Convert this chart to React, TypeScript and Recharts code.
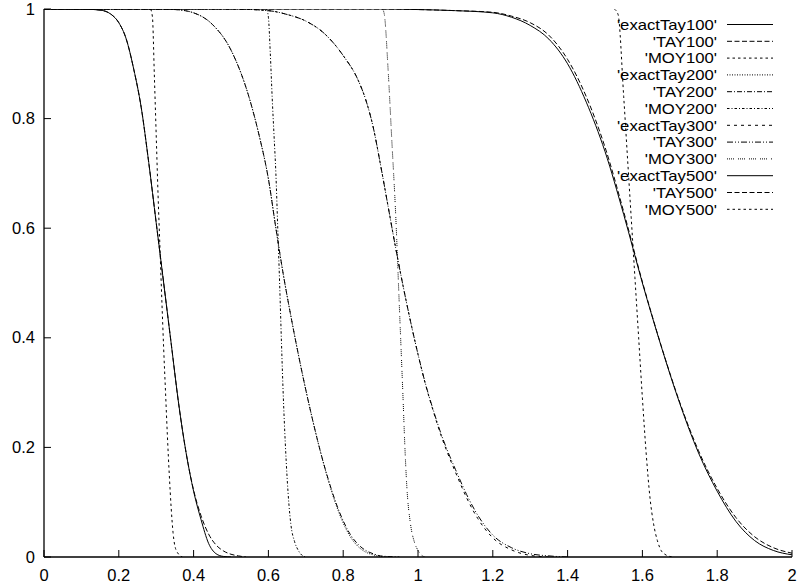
import React from 'react'
import { LineChart, Line, XAxis, YAxis, Legend } from 'recharts'

// x ticks and y ticks
const X_TICKS = [0, 0.2, 0.4, 0.6, 0.8, 1, 1.2, 1.4, 1.6, 1.8, 2]
const Y_TICKS = [0, 0.2, 0.4, 0.6, 0.8, 1]

// group 100
const exactTay100X = [0, 0.1, 0.15, 0.18, 0.2, 0.22, 0.24, 0.26, 0.28, 0.3, 0.32, 0.34, 0.36, 0.38, 0.4, 0.42, 0.44, 0.46, 0.48, 0.5]
const exactTay100Y = [1, 1, 0.998, 0.99, 0.975, 0.945, 0.89, 0.82, 0.72, 0.61, 0.5, 0.39, 0.28, 0.19, 0.12, 0.068, 0.025, 0.006, 0.001, 0]
const tay100X = [0, 0.1, 0.15, 0.18, 0.2, 0.22, 0.24, 0.26, 0.28, 0.3, 0.32, 0.34, 0.36, 0.38, 0.4, 0.42, 0.44, 0.46, 0.48, 0.5, 0.52, 0.54]
const tay100Y = [1, 1, 0.998, 0.99, 0.975, 0.945, 0.89, 0.82, 0.72, 0.61, 0.5, 0.39, 0.28, 0.19, 0.122, 0.075, 0.042, 0.022, 0.011, 0.005, 0.002, 0]
const moy100X = [0.285, 0.29, 0.295, 0.3, 0.305, 0.31, 0.315, 0.32, 0.325, 0.33, 0.335, 0.34, 0.345, 0.35, 0.36, 0.37]
const moy100Y = [1, 0.985, 0.88, 0.77, 0.66, 0.565, 0.47, 0.38, 0.3, 0.22, 0.15, 0.09, 0.045, 0.02, 0.005, 0]

// group 200
const exactTay200X = [0, 0.3, 0.35, 0.4, 0.45, 0.5, 0.55, 0.575, 0.6, 0.62, 0.64, 0.66, 0.68, 0.7, 0.72, 0.74, 0.76, 0.78, 0.8, 0.82, 0.84, 0.86, 0.88, 0.9, 0.93]
const exactTay200Y = [1, 1, 0.999, 0.993, 0.972, 0.925, 0.835, 0.77, 0.69, 0.6, 0.515, 0.44, 0.37, 0.305, 0.245, 0.19, 0.14, 0.097, 0.062, 0.036, 0.019, 0.009, 0.004, 0.001, 0]
const tay200X = [0, 0.3, 0.35, 0.4, 0.45, 0.5, 0.55, 0.575, 0.6, 0.62, 0.64, 0.66, 0.68, 0.7, 0.72, 0.74, 0.76, 0.78, 0.8, 0.82, 0.84, 0.86, 0.88, 0.9, 0.95]
const tay200Y = [1, 1, 0.999, 0.993, 0.972, 0.925, 0.835, 0.77, 0.69, 0.6, 0.515, 0.44, 0.37, 0.305, 0.245, 0.19, 0.142, 0.1, 0.066, 0.04, 0.023, 0.012, 0.006, 0.002, 0]
const moy200X = [0.595, 0.6, 0.605, 0.61, 0.615, 0.62, 0.625, 0.63, 0.635, 0.64, 0.645, 0.65, 0.655, 0.66, 0.67, 0.68, 0.69, 0.7]
const moy200Y = [1, 0.985, 0.92, 0.84, 0.77, 0.7, 0.6, 0.5, 0.39, 0.29, 0.21, 0.145, 0.095, 0.06, 0.028, 0.012, 0.003, 0]

// group 300
const exactTay300X = [0, 0.5, 0.6, 0.65, 0.7, 0.75, 0.8, 0.84, 0.86, 0.88, 0.9, 0.92, 0.94, 0.96, 0.98, 1.0, 1.02, 1.04, 1.06, 1.08, 1.1, 1.13, 1.16, 1.2, 1.25, 1.3, 1.35]
const exactTay300Y = [1, 1, 0.997, 0.99, 0.978, 0.955, 0.915, 0.87, 0.835, 0.785, 0.715, 0.64, 0.565, 0.495, 0.43, 0.37, 0.315, 0.268, 0.225, 0.188, 0.155, 0.108, 0.07, 0.035, 0.013, 0.003, 0]
const tay300X = [0, 0.5, 0.6, 0.65, 0.7, 0.75, 0.8, 0.84, 0.86, 0.88, 0.9, 0.92, 0.94, 0.96, 0.98, 1.0, 1.02, 1.04, 1.06, 1.08, 1.1, 1.13, 1.16, 1.2, 1.25, 1.3, 1.35, 1.4]
const tay300Y = [1, 1, 0.997, 0.99, 0.978, 0.955, 0.915, 0.87, 0.835, 0.785, 0.715, 0.64, 0.565, 0.495, 0.43, 0.37, 0.316, 0.27, 0.228, 0.192, 0.16, 0.114, 0.076, 0.04, 0.017, 0.006, 0.002, 0]
const moy300X = [0.905, 0.91, 0.92, 0.93, 0.94, 0.95, 0.96, 0.965, 0.97, 0.98, 0.99, 1.0, 1.01, 1.02]
const moy300Y = [1, 0.99, 0.89, 0.76, 0.63, 0.46, 0.29, 0.2, 0.13, 0.06, 0.028, 0.012, 0.003, 0]

// group 500
const exactTay500X = [0, 0.9, 1.0, 1.1, 1.2, 1.25, 1.3, 1.35, 1.4, 1.45, 1.5, 1.55, 1.6, 1.65, 1.7, 1.75, 1.8, 1.85, 1.9, 1.95, 2.0]
const exactTay500Y = [1, 1, 0.999, 0.997, 0.993, 0.985, 0.97, 0.945, 0.9, 0.83, 0.74, 0.625, 0.5, 0.385, 0.28, 0.19, 0.12, 0.065, 0.03, 0.012, 0.004]
const tay500Y = [1, 1, 0.999, 0.997, 0.994, 0.987, 0.975, 0.952, 0.908, 0.84, 0.748, 0.63, 0.502, 0.386, 0.282, 0.194, 0.125, 0.072, 0.037, 0.017, 0.007]
const moy500X = [1.525, 1.535, 1.55, 1.56, 1.57, 1.58, 1.59, 1.6, 1.61, 1.62, 1.63, 1.64, 1.65, 1.66, 1.68]
const moy500Y = [1, 0.99, 0.84, 0.73, 0.62, 0.51, 0.4, 0.29, 0.19, 0.11, 0.06, 0.03, 0.012, 0.005, 0]

const zip = (xs: number[], ys: number[]) => xs.map((x, i) => ({ x, y: ys[i] }))

const SERIES = [
  { name: "'exactTay100'", data: zip(exactTay100X, exactTay100Y), dash: undefined },
  { name: "'TAY100'", data: zip(tay100X, tay100Y), dash: '5 2.5' },
  { name: "'MOY100'", data: zip(moy100X, moy100Y), dash: '2.5 3' },
  { name: "'exactTay200'", data: zip(exactTay200X, exactTay200Y), dash: '1 1.5' },
  { name: "'TAY200'", data: zip(tay200X, tay200Y), dash: '5 2 1 2' },
  { name: "'MOY200'", data: zip(moy200X, moy200Y), dash: '2.5 2 1 2' },
  { name: "'exactTay300'", data: zip(exactTay300X, exactTay300Y), dash: '3 4' },
  { name: "'TAY300'", data: zip(tay300X, tay300Y), dash: '6 2 1 2 1 2' },
  { name: "'MOY300'", data: zip(moy300X, moy300Y), dash: '1 1 1 1 1 1 1 4' },
  { name: "'exactTay500'", data: zip(exactTay500X, exactTay500Y), dash: undefined },
  { name: "'TAY500'", data: zip(exactTay500X, tay500Y), dash: '5 2.5' },
  { name: "'MOY500'", data: zip(moy500X, moy500Y), dash: '2.5 3' },
]

const FONT = 'Liberation Sans, Arial, Helvetica, sans-serif'
const fmt = (v: number) => String(Math.round(v * 10) / 10)

const BottomTick = (props: any) => {
  const { x, y, payload } = props
  return (
    <g>
      <line x1={x} y1={y} x2={x} y2={y - 7} stroke="#000" strokeWidth={1} />
      <text x={x} y={y + 24} textAnchor="middle" fontSize={16.5} fontFamily={FONT} fill="#000">
        {fmt(payload.value)}
      </text>
    </g>
  )
}
const TopTick = (props: any) => {
  const { x, y } = props
  return <line x1={x} y1={y} x2={x} y2={y + 7} stroke="#000" strokeWidth={1} />
}
const LeftTick = (props: any) => {
  const { x, y, payload } = props
  return (
    <g>
      <line x1={x} y1={y} x2={x + 7} y2={y} stroke="#000" strokeWidth={1} />
      <text x={x - 9} y={y + 5.5} textAnchor="end" fontSize={16.5} fontFamily={FONT} fill="#000">
        {fmt(payload.value)}
      </text>
    </g>
  )
}
const RightTick = (props: any) => {
  const { x, y } = props
  return <line x1={x} y1={y} x2={x - 7} y2={y} stroke="#000" strokeWidth={1} />
}

// legend drawn as svg rows: label right aligned, then a line sample
const renderLegend = () => (
  <svg width={190} height={210}>
    {SERIES.map((s, i) => {
      const cy = 9.5 + i * 16.8
      return (
        <g key={s.name}>
          <text
            transform={`translate(117, ${cy + 5.2}) scale(1.16, 1)`}
            textAnchor="end"
            fontSize={14.4}
            fontFamily={FONT}
            fill="#000"
          >
            {s.name}
          </text>
          <line x1={127} y1={cy} x2={173} y2={cy} stroke="#000" strokeWidth={1} strokeDasharray={s.dash} />
        </g>
      )
    })}
  </svg>
)

export default function App() {
  return (
    <div style={{ position: 'fixed', left: 0, top: 0, width: 798, height: 587, background: '#fff' }}>
      <LineChart width={798} height={587} margin={{ top: 9, right: 6, bottom: 0, left: 0 }}>
        <XAxis
          dataKey="x"
          type="number"
          domain={[0, 2]}
          ticks={X_TICKS}
          interval={0}
          allowDataOverflow
          height={30}
          tickSize={0}
          tickMargin={0}
          tickLine={false}
          tick={<BottomTick />}
          axisLine={{ stroke: '#000', strokeWidth: 1.3 }}
        />
        <XAxis
          xAxisId="top"
          orientation="top"
          dataKey="x"
          type="number"
          domain={[0, 2]}
          ticks={X_TICKS}
          interval={0}
          allowDataOverflow
          height={0}
          tickSize={0}
          tickMargin={0}
          tickLine={false}
          tick={<TopTick />}
          axisLine={{ stroke: '#000', strokeWidth: 1.3 }}
        />
        <YAxis
          type="number"
          domain={[0, 1]}
          ticks={Y_TICKS}
          interval={0}
          allowDataOverflow
          width={44}
          tickSize={0}
          tickMargin={0}
          tickLine={false}
          tick={<LeftTick />}
          axisLine={{ stroke: '#000', strokeWidth: 1.3 }}
        />
        <YAxis
          yAxisId="right"
          orientation="right"
          type="number"
          domain={[0, 1]}
          ticks={Y_TICKS}
          interval={0}
          allowDataOverflow
          width={0}
          tickSize={0}
          tickMargin={0}
          tickLine={false}
          tick={<RightTick />}
          axisLine={{ stroke: '#000', strokeWidth: 1.3 }}
        />
        <Legend
          layout="vertical"
          align="center"
          verticalAlign="middle"
          content={renderLegend}
          wrapperStyle={{ left: 600, top: 15, width: 190, height: 210 }}
        />
        {SERIES.map((s) => (
          <Line
            key={s.name}
            data={s.data}
            dataKey="y"
            name={s.name}
            type="monotoneX"
            stroke="#000"
            strokeWidth={1}
            strokeDasharray={s.dash}
            dot={false}
            activeDot={false}
            isAnimationActive={false}
          />
        ))}
      </LineChart>
    </div>
  )
}
